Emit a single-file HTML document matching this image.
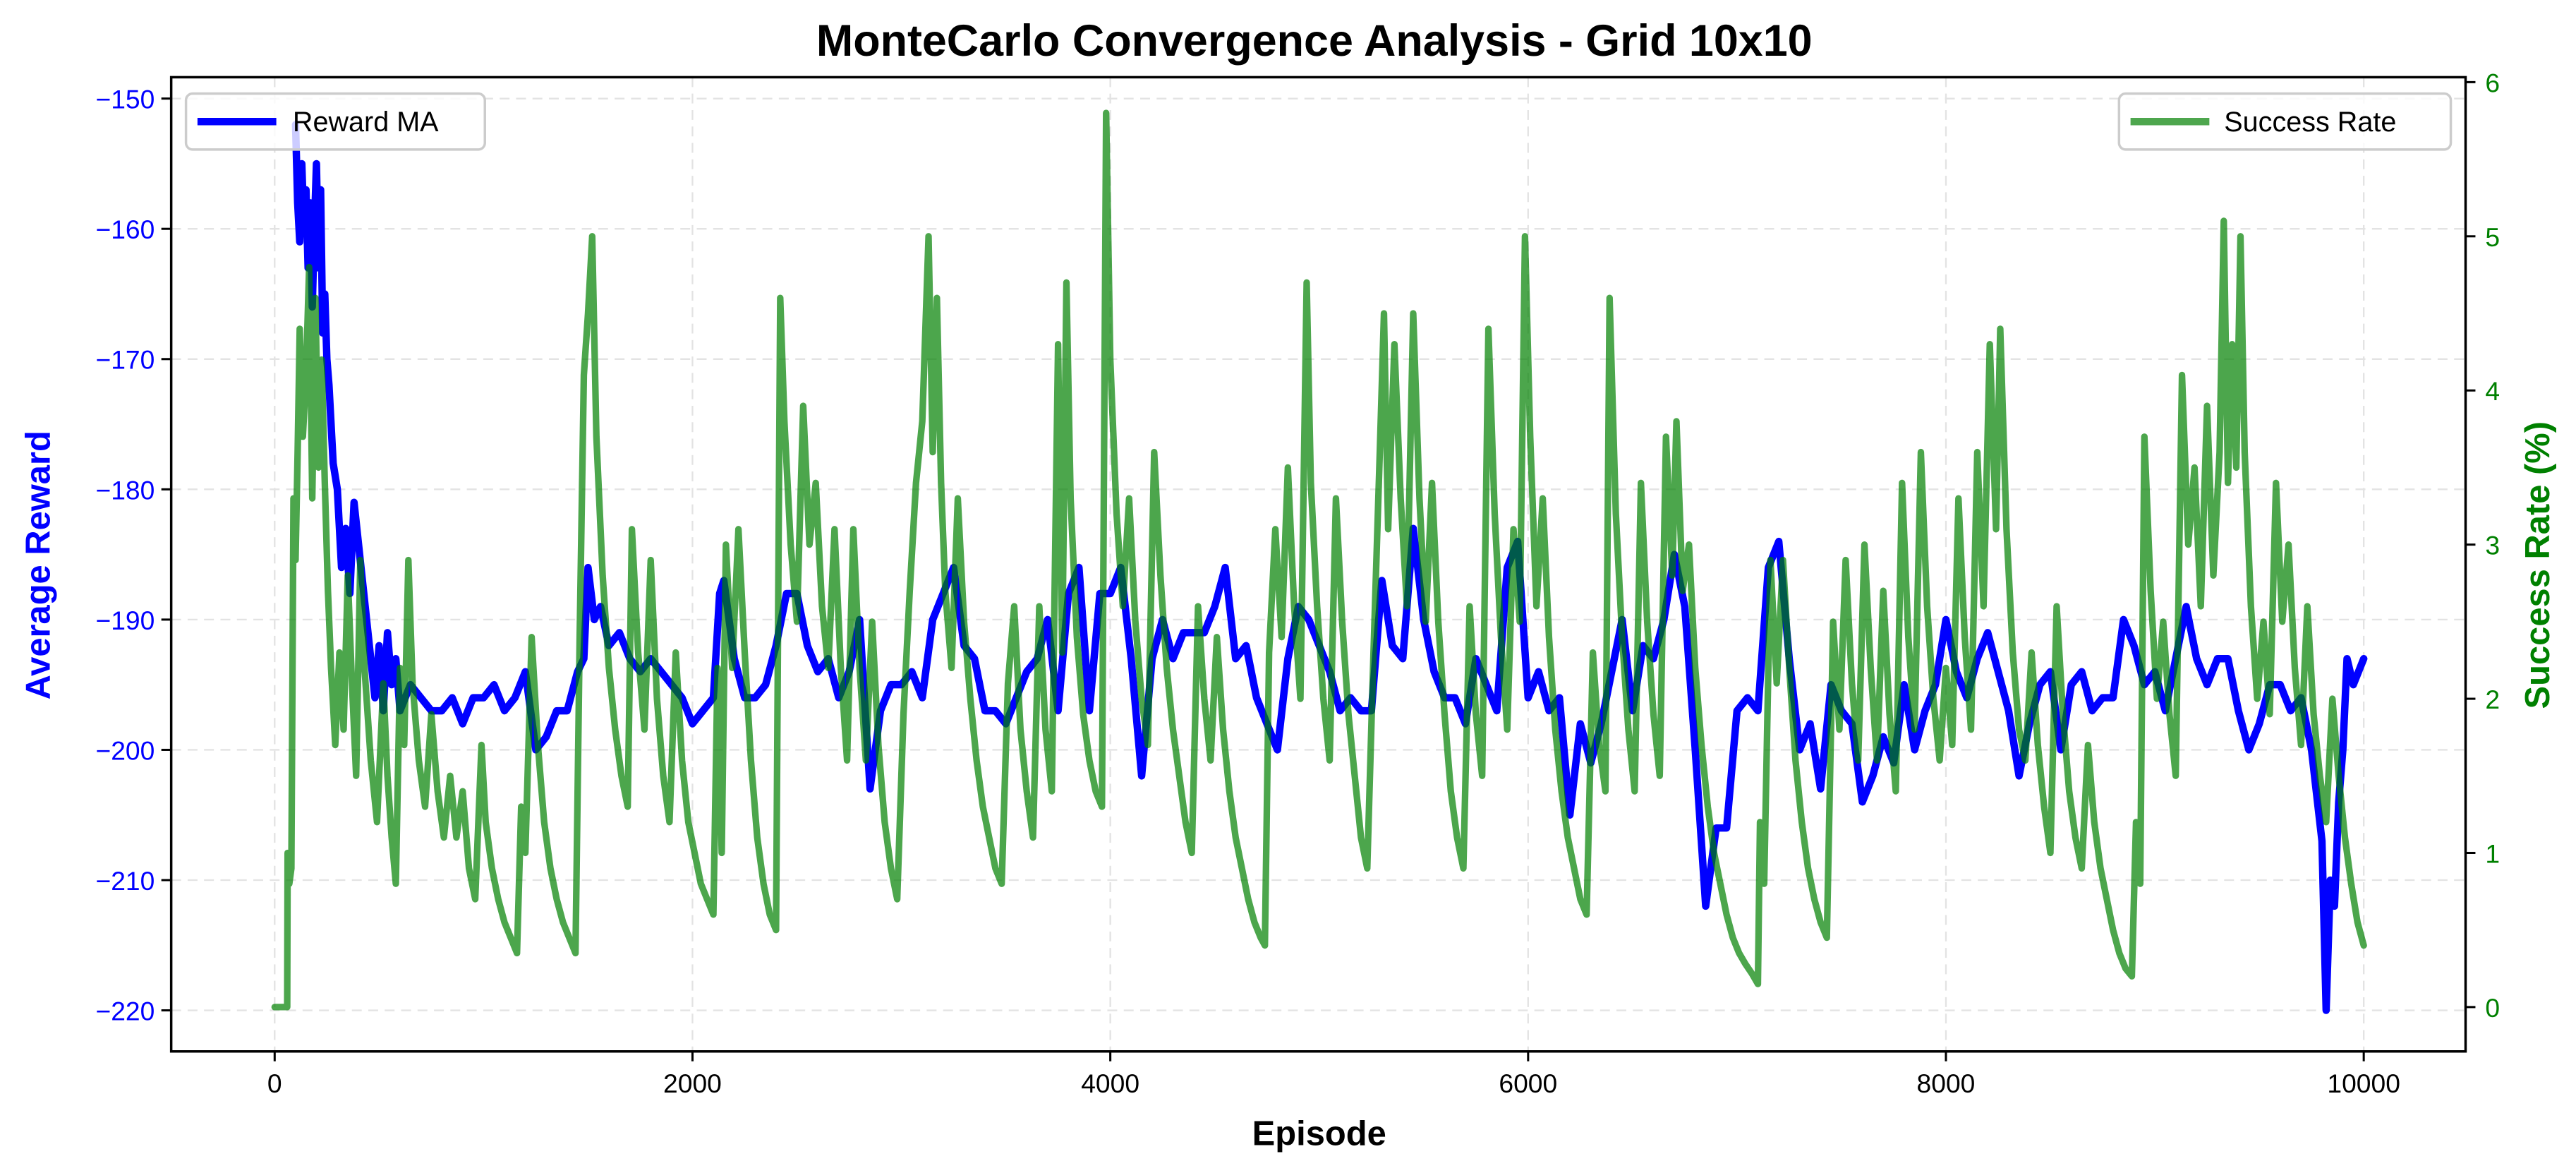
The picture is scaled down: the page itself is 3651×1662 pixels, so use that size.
<!DOCTYPE html>
<html><head><meta charset="utf-8"><style>html,body{margin:0;padding:0;background:#fff}svg{display:block}</style></head>
<body>
<svg id="chart" width="3651" height="1662" viewBox="0 0 1568 714" xmlns="http://www.w3.org/2000/svg" font-family="'Liberation Sans','DejaVu Sans',sans-serif">
<rect width="1568" height="714" fill="#fff"/>
<g id="grid"></g><g id="series"></g><g id="axes"></g>
<text x="800" y="34" text-anchor="middle" font-size="27" font-weight="bold">MonteCarlo Convergence Analysis - Grid 10x10</text>
<text x="803" y="697" text-anchor="middle" font-size="21" font-weight="bold">Episode</text>
<text transform="translate(30,344) rotate(-90)" text-anchor="middle" font-size="21" font-weight="bold" fill="#0000ff">Average Reward</text>
<text transform="translate(1552,344) rotate(-90)" text-anchor="middle" font-size="21" font-weight="bold" fill="#008000">Success Rate (%)</text>
<g>
<rect x="113" y="57" width="182" height="34" rx="4" fill="#fff" fill-opacity="0.8" stroke="#ccc" stroke-width="1.5"/>
<line x1="120" y1="74" x2="168" y2="74" stroke="#0000ff" stroke-width="4.5"/>
<text x="178" y="80" font-size="17">Reward MA</text></g>
<g>
<rect x="1290" y="57" width="202" height="34" rx="4" fill="#fff" fill-opacity="0.8" stroke="#ccc" stroke-width="1.5"/>
<line x1="1297" y1="74" x2="1345" y2="74" stroke="#4ea64e" stroke-width="4.5"/>
<text x="1354" y="80" font-size="17">Success Rate</text></g>
</svg>
<script>
const rewardEp=[
100,110,120,130,140,150,160,170,180,190,
200,210,220,230,240,250,260,270,280,300,
320,340,360,380,400,420,440,460,480,500,
520,540,560,580,600,650,700,750,800,850,
900,950,1000,1050,1100,1150,1200,1250,1300,1350,
1400,1450,1480,1500,1530,1560,1600,1650,1700,1750,
1800,1850,1900,1950,2000,2050,2100,2130,2150,2200,
2250,2300,2350,2400,2450,2500,2550,2600,2650,2700,
2750,2800,2850,2900,2950,3000,3050,3100,3150,3200,
3250,3300,3350,3400,3450,3500,3550,3600,3650,3700,
3750,3800,3850,3900,3950,4000,4050,4100,4150,4200,
4250,4300,4350,4400,4450,4500,4550,4600,4650,4700,
4750,4800,4850,4900,4950,5000,5050,5100,5150,5200,
5250,5300,5350,5400,5450,5500,5550,5600,5650,5700,
5750,5800,5850,5900,5950,6000,6050,6100,6150,6200,
6250,6300,6350,6400,6450,6500,6550,6600,6650,6700,
6750,6800,6850,6900,6950,7000,7050,7100,7150,7200,
7250,7300,7350,7400,7450,7500,7550,7600,7650,7700,
7750,7800,7850,7900,7950,8000,8050,8100,8150,8200,
8250,8300,8350,8400,8450,8500,8550,8600,8650,8700,
8750,8800,8850,8900,8950,9000,9050,9100,9150,9200,
9250,9300,9350,9400,9450,9500,9550,9600,9650,9700,
9750,9800,9820,9840,9860,9880,9900,9920,9950,10000];
const rewardVal=[
-152,-158,-161,-155,-160,-157,-163,-158,-166,-160,
-155,-163,-157,-168,-165,-170,-172,-175,-178,-180,
-186,-183,-188,-181,-184,-187,-190,-193,-196,-192,
-197,-191,-195,-193,-197,-195,-196,-197,-197,-196,
-198,-196,-196,-195,-197,-196,-194,-200,-199,-197,
-197,-194,-193,-186,-190,-189,-192,-191,-193,-194,
-193,-194,-195,-196,-198,-197,-196,-188,-187,-193,
-196,-196,-195,-192,-188,-188,-192,-194,-193,-196,
-194,-190,-203,-197,-195,-195,-194,-196,-190,-188,
-186,-192,-193,-197,-197,-198,-196,-194,-193,-190,
-197,-188,-186,-197,-188,-188,-186,-193,-202,-193,
-190,-193,-191,-191,-191,-189,-186,-193,-192,-196,
-198,-200,-193,-189,-190,-192,-194,-197,-196,-197,
-197,-187,-192,-193,-183,-190,-194,-196,-196,-198,
-193,-195,-197,-186,-184,-196,-194,-197,-196,-205,
-198,-201,-198,-194,-190,-197,-192,-193,-190,-185,
-189,-200,-212,-206,-206,-197,-196,-197,-186,-184,
-193,-200,-198,-203,-195,-197,-198,-204,-202,-199,
-201,-195,-200,-197,-195,-190,-194,-196,-193,-191,
-194,-197,-202,-198,-195,-194,-200,-195,-194,-197,
-196,-196,-190,-192,-195,-194,-197,-193,-189,-193,
-195,-193,-193,-197,-200,-198,-195,-195,-197,-196,
-200,-207,-220,-210,-212,-204,-200,-193,-195,-193];
const successEp=[
0,60,62,70,80,90,100,110,120,135,
150,165,180,195,210,225,240,255,270,290,
310,330,350,370,390,410,430,460,490,520,
540,560,580,600,620,640,660,690,720,750,
780,810,840,870,900,930,960,990,1010,1040,
1070,1100,1130,1160,1180,1200,1230,1260,1290,1320,
1350,1380,1410,1440,1460,1480,1500,1520,1540,1570,
1600,1630,1660,1690,1710,1740,1770,1800,1830,1860,
1890,1920,1950,1980,2010,2040,2070,2100,2120,2140,
2160,2190,2220,2250,2280,2310,2340,2370,2400,2420,
2440,2470,2500,2530,2560,2590,2620,2650,2680,2710,
2740,2770,2800,2830,2860,2890,2920,2950,2980,3010,
3040,3070,3100,3130,3150,3170,3190,3210,3240,3270,
3300,3330,3360,3390,3420,3450,3480,3510,3540,3570,
3600,3630,3660,3690,3720,3750,3770,3790,3810,3840,
3870,3900,3930,3960,3980,4000,4030,4060,4090,4120,
4150,4180,4210,4240,4270,4300,4330,4360,4390,4420,
4450,4480,4510,4540,4570,4600,4630,4660,4690,4720,
4740,4760,4790,4820,4850,4880,4910,4940,4960,4990,
5020,5050,5080,5110,5140,5170,5200,5230,5260,5290,
5310,5330,5360,5390,5420,5450,5480,5510,5540,5570,
5600,5630,5660,5690,5720,5750,5780,5810,5840,5870,
5900,5930,5960,5985,6010,6040,6070,6100,6130,6160,
6190,6220,6250,6280,6310,6340,6370,6390,6420,6450,
6480,6510,6540,6570,6600,6630,6660,6690,6710,6740,
6770,6800,6830,6860,6890,6920,6950,6980,7010,7040,
7070,7100,7110,7130,7160,7190,7220,7250,7280,7310,
7340,7370,7400,7430,7460,7490,7520,7550,7580,7610,
7640,7670,7700,7730,7760,7790,7820,7850,7880,7910,
7940,7970,8000,8030,8060,8090,8120,8150,8180,8210,
8240,8260,8290,8320,8350,8380,8410,8440,8470,8500,
8530,8560,8590,8620,8650,8680,8710,8740,8770,8800,
8830,8860,8890,8910,8930,8950,8980,9010,9040,9070,
9100,9130,9160,9190,9220,9250,9280,9310,9330,9350,
9370,9390,9410,9430,9460,9490,9520,9550,9580,9610,
9640,9670,9700,9730,9760,9790,9820,9850,9880,9910,
9940,9970,10000];
const successVal=[
0,0,1.0,0.8,0.9,3.3,2.9,3.6,4.4,3.7,
4.1,4.8,3.3,4.6,3.5,4.2,3.4,2.7,2.2,1.7,
2.3,1.8,2.8,2.1,1.5,2.9,2.2,1.6,1.2,2.1,
1.5,1.1,0.8,2.2,1.7,2.9,2.1,1.6,1.3,1.9,
1.4,1.1,1.5,1.1,1.4,0.9,0.7,1.7,1.2,0.9,
0.7,0.55,0.45,0.35,1.3,1.0,2.4,1.7,1.2,0.9,
0.7,0.55,0.45,0.35,2.4,4.1,4.5,5.0,3.7,2.8,
2.2,1.8,1.5,1.3,3.1,2.3,1.8,2.9,2.0,1.5,
1.2,2.3,1.6,1.2,1.0,0.8,0.7,0.6,2.2,1.0,
3.0,2.2,3.1,2.3,1.6,1.1,0.8,0.6,0.5,4.6,
3.8,3.0,2.5,3.9,3.0,3.4,2.6,2.2,3.1,2.2,
1.6,3.1,2.2,1.6,2.5,1.7,1.2,0.9,0.7,1.9,
2.7,3.4,3.8,5.0,3.6,4.6,3.4,2.7,2.2,3.3,
2.5,2.0,1.6,1.3,1.1,0.9,0.8,2.1,2.6,1.8,
1.4,1.1,2.6,1.8,1.4,4.3,2.3,4.7,3.3,2.4,
1.9,1.6,1.4,1.3,5.8,4.2,3.2,2.6,3.3,2.5,
2.0,1.7,3.6,2.8,2.2,1.8,1.5,1.2,1.0,2.6,
2.0,1.6,2.4,1.8,1.4,1.1,0.9,0.7,0.55,0.45,
0.4,2.3,3.1,2.4,3.5,2.6,2.0,4.7,3.4,2.6,
2.0,1.6,3.3,2.5,1.9,1.5,1.1,0.9,2.3,3.6,
4.5,3.1,4.3,3.3,2.6,4.5,3.3,2.5,3.4,2.5,
1.9,1.4,1.1,0.9,2.6,1.9,1.5,4.4,3.2,2.4,
1.8,3.1,2.5,5.0,3.7,2.6,3.3,2.4,1.8,1.4,
1.1,0.9,0.7,0.6,2.3,1.7,1.4,4.6,3.2,2.4,
1.8,1.4,3.4,2.5,1.9,1.5,3.7,2.8,3.8,2.7,
3.0,2.2,1.7,1.3,1.0,0.8,0.6,0.45,0.35,0.28,
0.22,0.15,1.2,0.8,2.9,2.1,2.9,2.2,1.6,1.2,
0.9,0.7,0.55,0.45,2.5,1.8,2.9,2.1,1.6,3.0,
2.2,1.6,2.7,1.9,1.4,3.4,2.4,1.8,3.6,2.6,
2.0,1.6,2.2,1.7,3.3,2.4,1.8,3.6,2.6,4.3,
3.1,4.4,3.1,2.3,1.8,1.6,2.3,1.7,1.3,1.0,
2.6,1.9,1.4,1.1,0.9,1.7,1.2,0.9,0.7,0.5,
0.35,0.25,0.2,1.2,0.8,3.7,2.7,2.0,2.5,1.9,
1.5,4.1,3.0,3.5,2.6,3.9,2.8,3.6,5.1,3.4,
4.3,3.5,5.0,3.6,2.6,2.0,2.5,1.9,3.4,2.5,
3.0,2.2,1.7,2.6,1.9,1.5,1.2,2.0,1.5,1.1,
0.8,0.55,0.4];
const xTicks=[0,2000,4000,6000,8000,10000];
const yLeftTicks=[-220,-210,-200,-190,-180,-170,-160,-150];
const yRightTicks=[0,1,2,3,4,5,6];
const NS='http://www.w3.org/2000/svg';
const L=104,R=1501,T=47,B=640;
const xS=v=>167+(v/10000)*(1439-167);
const yL=v=>60+(-150-v)*(615-60)/70;
const yR=v=>613-v*(613-50)/6;
function mk(tag,attrs,parent){const e=document.createElementNS(NS,tag);for(const k in attrs)e.setAttribute(k,attrs[k]);parent.appendChild(e);return e;}
const grid=document.getElementById('grid'),ser=document.getElementById('series'),ax=document.getElementById('axes');
xTicks.forEach(t=>{const g=mk('line',{x1:xS(t),x2:xS(t),y1:T,y2:B,stroke:'#e3e3e3','stroke-dasharray':'6,4','stroke-width':1},grid);


const tk=mk('line',{x1:xS(t),x2:xS(t),y1:B,y2:B+6,stroke:'#000','stroke-width':1.3},ax);


const tx=mk('text',{x:xS(t),y:B+25,'text-anchor':'middle','font-size':16},ax);tx.textContent=t;

});
yLeftTicks.forEach(t=>{const g=mk('line',{x1:L,x2:R,y1:yL(t),y2:yL(t),stroke:'#e3e3e3','stroke-dasharray':'6,4','stroke-width':1},grid);


const tk=mk('line',{x1:L-6,x2:L,y1:yL(t),y2:yL(t),stroke:'#000','stroke-width':1.3},ax);


const tx=mk('text',{x:L-10,y:yL(t)+6,'text-anchor':'end','font-size':16,fill:'#0000ff'},ax);tx.textContent='\u2212'+Math.abs(t);

});
yRightTicks.forEach(t=>{const tk=mk('line',{x1:R,x2:R+6,y1:yR(t),y2:yR(t),stroke:'#000','stroke-width':1.3},ax);


const tx=mk('text',{x:R+12,y:yR(t)+6,'font-size':16,fill:'#008000'},ax);tx.textContent=t;

});
const fr=mk('rect',{x:L,y:T,width:R-L,height:B-T,fill:'none',stroke:'#000','stroke-width':1.5},ax);


const rn=Math.min(rewardEp.length,rewardVal.length);
const rp=mk('polyline',{points:rewardEp.slice(0,rn).map((e,i)=>xS(e)+','+yL(rewardVal[i])).join(' '),fill:'none',stroke:'#0000ff','stroke-width':4.5,'stroke-linejoin':'round','stroke-linecap':'round'},ser);


const sn=Math.min(successEp.length,successVal.length);
const sp=mk('polyline',{points:successEp.slice(0,sn).map((e,i)=>xS(e)+','+yR(successVal[i])).join(' '),fill:'none',stroke:'#008000','stroke-opacity':0.7,'stroke-width':4,'stroke-linejoin':'round','stroke-linecap':'round'},ser);


</script>
</body></html>
